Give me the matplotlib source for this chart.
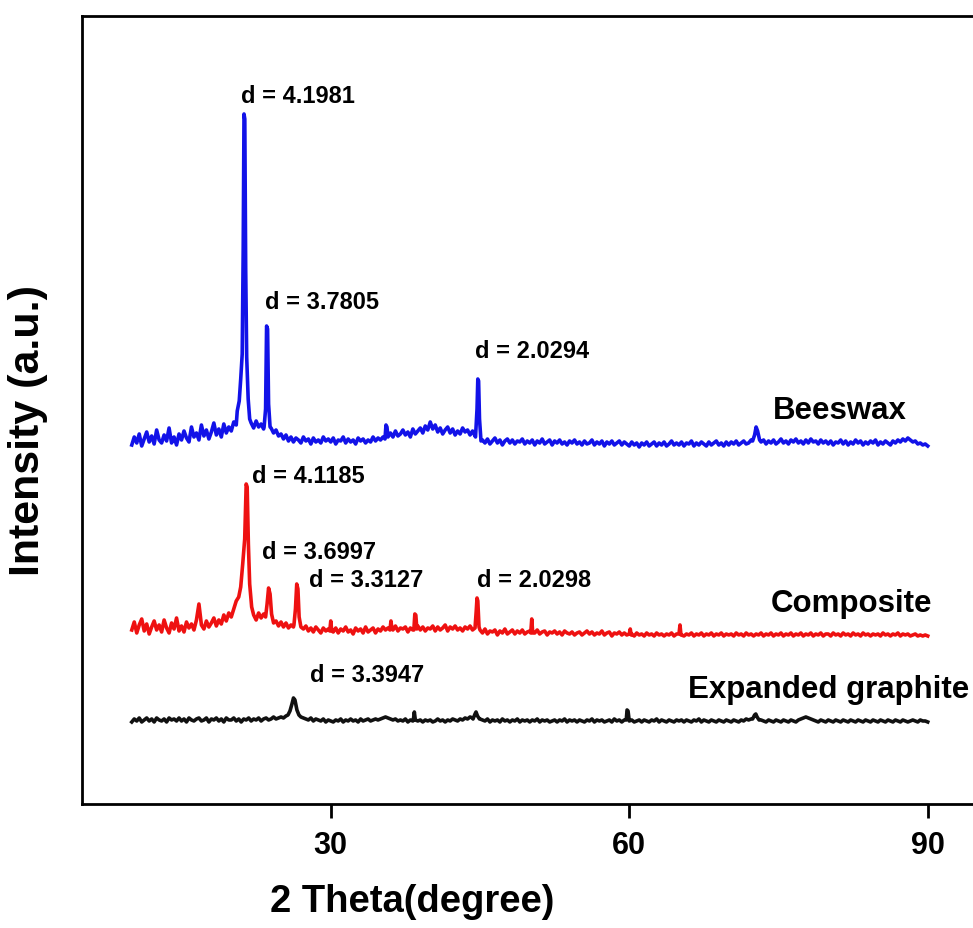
import matplotlib.pyplot as plt
import numpy as np

# 2-theta grid for the background (degrees)
two_theta = np.arange(10, 90.01, 0.25)

# background intensity above each curve's offset (a.u.), one value per grid point
beeswax_base = [
    4, 12, 6, 15, 3, 10, 17, 7, 13, 5, 19, 9, 6, 14, 8, 21, 6, 12, 4, 15,
    9, 18, 11, 7, 22, 12, 16, 9, 24, 13, 19, 10, 17, 26, 14, 20, 12, 25, 16, 22,
    18, 27, 24, 40, 90, 300, 90, 40, 26, 21, 28, 22, 25, 20, 60, 60, 21, 16, 19, 13,
    15, 10, 14, 8, 12, 7, 11, 9, 6, 12, 8, 10, 5, 11, 7, 9, 6, 12, 8, 10,
    7, 11, 5, 9, 8, 12, 6, 10, 7, 9, 5, 11, 8, 10, 6, 9, 7, 12, 8, 11,
    9, 12, 14, 10, 16, 12, 18, 13, 15, 19, 14, 17, 12, 20, 15, 18, 21, 16, 23, 19,
    27, 20, 24, 17, 21, 15, 19, 22, 16, 20, 14, 18, 15, 21, 17, 19, 14, 18, 13, 45,
    40, 9, 6, 10, 5, 8, 11, 6, 9, 4, 8, 10, 6, 9, 5, 8, 7, 10, 5, 8,
    6, 9, 4, 8, 6, 10, 5, 7, 9, 4, 8, 6, 9, 5, 7, 4, 8, 6, 9, 5,
    7, 4, 8, 5, 6, 9, 4, 7, 5, 8, 3, 7, 5, 8, 4, 6, 8, 4, 7, 5,
    3, 7, 4, 6, 2, 6, 4, 7, 3, 5, 7, 3, 6, 4, 7, 3, 5, 8, 4, 6,
    4, 7, 3, 6, 5, 8, 3, 6, 4, 7, 5, 3, 7, 4, 6, 8, 4, 6, 3, 7,
    4, 7, 5, 8, 4, 6, 8, 5, 6, 9, 15, 20, 18, 7, 9, 5, 8, 6, 9, 5,
    7, 10, 6, 8, 5, 9, 7, 10, 6, 8, 5, 9, 6, 10, 7, 8, 5, 9, 6, 8,
    5, 8, 4, 7, 6, 9, 5, 8, 4, 7, 5, 9, 6, 8, 4, 7, 5, 8, 6, 9,
    4, 7, 5, 8, 6, 4, 8, 6, 9, 7, 10, 8, 11, 9, 7, 8, 5, 6, 4, 5,
    3,
]
composite_base = [
    9, 17, 6, 14, 20, 8, 15, 5, 12, 18, 9, 14, 7, 19, 11, 6, 16, 10, 21, 8,
    13, 7, 17, 11, 15, 9, 19, 35, 14, 10, 18, 12, 16, 21, 13, 19, 15, 24, 18, 26,
    22, 30, 38, 45, 80, 150, 100, 55, 35, 24, 19, 26, 21, 25, 35, 50, 30, 16, 18, 13,
    17, 12, 16, 11, 14, 12, 30, 40, 12, 10, 13, 8, 11, 7, 12, 9, 6, 11, 8, 10,
    18, 7, 11, 6, 10, 8, 12, 7, 9, 5, 11, 8, 10, 6, 12, 7, 9, 11, 6, 10,
    8, 12, 9, 11, 14, 9, 13, 8, 11, 10, 12, 7, 11, 9, 20, 13, 9, 12, 8, 11,
    10, 13, 8, 12, 9, 11, 14, 8, 12, 10, 13, 9, 11, 8, 12, 10, 13, 9, 30, 35,
    9, 6, 10, 5, 8, 7, 9, 4, 8, 6, 10, 5, 7, 9, 5, 8, 6, 9, 5, 7,
    8, 15, 6, 9, 5, 7, 8, 4, 7, 6, 8, 5, 7, 4, 8, 6, 5, 7, 4, 6,
    7, 4, 6, 8, 5, 7, 4, 6, 5, 8, 4, 6, 7, 3, 6, 5, 7, 4, 6, 4,
    6, 5, 3, 6, 4, 5, 3, 6, 4, 5, 3, 6, 4, 5, 3, 5, 4, 6, 3, 5,
    6, 4, 3, 5, 4, 6, 3, 5, 4, 6, 3, 5, 4, 6, 3, 5, 4, 6, 3, 5,
    4, 5, 3, 6, 4, 5, 3, 6, 4, 5, 3, 5, 4, 6, 3, 5, 4, 6, 3, 5,
    4, 6, 3, 5, 4, 6, 3, 5, 4, 6, 3, 5, 4, 6, 3, 5, 4, 6, 3, 5,
    5, 3, 6, 4, 5, 3, 6, 4, 5, 3, 6, 4, 5, 3, 6, 4, 5, 3, 5, 4,
    5, 3, 6, 4, 5, 3, 5, 4, 6, 3, 5, 4, 5, 3, 4, 5, 3, 4, 3, 4,
    3,
]
graphite_base = [
    2, 5, 3, 6, 2, 4, 6, 3, 5, 2, 6, 4, 3, 5, 2, 6, 4, 5, 3, 6,
    3, 5, 2, 6, 4, 3, 5, 6, 3, 4, 6, 2, 5, 4, 6, 3, 5, 2, 6, 4,
    4, 6, 3, 5, 2, 5, 4, 6, 3, 5, 4, 6, 3, 5, 6, 4, 5, 7, 5, 6,
    7, 6, 8, 9, 15, 20, 25, 14, 7, 6, 5, 4, 6, 3, 5, 4, 3, 5, 2, 4,
    3, 2, 4, 3, 5, 2, 4, 3, 5, 3, 4, 2, 5, 3, 4, 5, 3, 4, 5, 4,
    5, 6, 7, 6, 5, 4, 5, 3, 4, 3, 5, 2, 4, 3, 10, 3, 4, 2, 4, 3,
    4, 2, 3, 5, 3, 4, 2, 4, 3, 5, 4, 3, 5, 4, 6, 5, 7, 6, 10, 9,
    5, 4, 3, 5, 2, 4, 3, 4, 2, 5, 3, 4, 2, 4, 3, 5, 2, 4, 3, 4,
    2, 4, 3, 5, 2, 4, 3, 4, 2, 3, 4, 2, 4, 3, 5, 2, 4, 3, 4, 2,
    4, 3, 2, 4, 3, 5, 2, 4, 3, 4, 2, 3, 4, 2, 5, 3, 4, 2, 4, 3,
    3, 4, 2, 3, 4, 2, 4, 3, 2, 4, 3, 5, 2, 4, 3, 2, 4, 3, 2, 4,
    3, 4, 2, 4, 3, 2, 4, 3, 5, 2, 4, 3, 2, 4, 3, 2, 4, 3, 2, 4,
    3, 2, 4, 3, 2, 4, 3, 5, 4, 5, 8, 10, 7, 4, 3, 2, 4, 3, 2, 4,
    3, 2, 4, 3, 2, 4, 3, 2, 4, 5, 6, 7, 6, 5, 4, 3, 2, 4, 3, 2,
    4, 3, 2, 4, 3, 2, 4, 3, 2, 4, 3, 2, 4, 3, 2, 4, 3, 2, 4, 3,
    2, 4, 3, 2, 4, 3, 2, 4, 3, 2, 4, 3, 2, 3, 4, 3, 2, 4, 3, 3,
    2,
]

# diffraction peaks: (2theta, intensity)
beeswax_peaks = [
    [(20.6, 38), (20.8, 48), (20.95, 70), (21.1, 95), (21.2, 200), (21.28, 335),
     (21.36, 330), (21.45, 180), (21.55, 92), (21.7, 50), (21.85, 30)],
    [(23.3, 22), (23.45, 40), (23.55, 123), (23.65, 120), (23.75, 45), (23.9, 22)],
    [(35.45, 10), (35.55, 24), (35.65, 22), (35.75, 12)],
    [(44.55, 12), (44.7, 40), (44.78, 70), (44.86, 68), (44.95, 30), (45.1, 8)],
    [(72.4, 8), (72.6, 14), (72.75, 22), (72.9, 18), (73.1, 9)],
]
composite_peaks = [
    [(20.75, 42), (20.95, 52), (21.15, 75), (21.35, 100), (21.5, 155), (21.6, 152),
     (21.72, 95), (21.85, 55), (22.05, 32)],
    [(23.45, 22), (23.6, 35), (23.75, 51), (23.9, 45), (24.05, 25), (24.25, 16)],
    [(26.3, 14), (26.45, 30), (26.58, 55), (26.7, 50), (26.82, 22), (27.0, 12)],
    [(29.9, 8), (30.0, 18), (30.1, 8)],
    [(35.95, 9), (36.05, 18), (36.15, 10)],
    [(38.35, 9), (38.45, 25), (38.55, 24), (38.65, 10)],
    [(44.5, 11), (44.62, 28), (44.7, 41), (44.78, 38), (44.9, 12)],
    [(50.1, 6), (50.2, 20), (50.3, 6)],
    [(60.0, 5), (60.1, 10), (60.2, 4)],
    [(65.0, 5), (65.1, 14), (65.2, 4)],
]
graphite_peaks = [
    [(25.7, 9), (25.9, 13), (26.1, 20), (26.25, 26), (26.4, 24), (26.6, 14),
     (26.8, 9), (27.0, 7)],
    [(38.3, 4), (38.4, 12), (38.5, 4)],
    [(44.3, 5), (44.5, 10), (44.6, 12), (44.75, 8), (44.95, 5)],
    [(59.7, 4), (59.78, 14), (59.88, 13), (59.98, 4)],
    [(72.4, 5), (72.6, 9), (72.72, 10), (72.85, 7), (73.05, 4)],
]

offsets = [355, 165, 80]
names = ['Beeswax', 'Composite', 'Expanded graphite']
colors = ['#1212e8', '#ee1111', '#111111']


def build(base, peaks):
    pts = []
    for x, y in zip(two_theta, base):
        if not any(g[0][0] <= x <= g[-1][0] for g in peaks):
            pts.append((x, y))
    for g in peaks:
        pts.extend(g)
    pts.sort()
    return np.array([p[0] for p in pts]), np.array([p[1] for p in pts])


fig = plt.figure(figsize=(9.73, 9.29), dpi=100)
ax = fig.add_axes([0.0843, 0.1335, 0.9203, 0.8482])

for base, peaks, off, col in zip([beeswax_base, composite_base, graphite_base],
                                 [beeswax_peaks, composite_peaks, graphite_peaks],
                                 offsets, colors):
    x, y = build(base, peaks)
    ax.plot(x, y + off, color=col, lw=2.6, solid_joinstyle='round')

ax.set_xlim(5, 95)
ax.set_ylim(0, 788)
ax.set_yticks([])
ax.set_xticks([30, 60, 90])
ax.set_xticklabels(['30', '60', '90'], family='Liberation Sans',
                   fontweight='bold', fontsize=22)
ax.tick_params(axis='x', direction='out', length=10, width=2, pad=9)
for s in ax.spines.values():
    s.set_linewidth(2)

ann = dict(family='Liberation Sans', fontweight='bold', ha='left', va='center')
ax.text(21.0, 708, 'd = 4.1981', fontsize=17, **ann)
ax.text(23.4, 502, 'd = 3.7805', fontsize=17, **ann)
ax.text(44.5, 453, 'd = 2.0294', fontsize=17, **ann)
ax.text(22.1, 328, 'd = 4.1185', fontsize=17, **ann)
ax.text(23.1, 252, 'd = 3.6997', fontsize=17, **ann)
ax.text(27.8, 224, 'd = 3.3127', fontsize=17, **ann)
ax.text(44.7, 224, 'd = 2.0298', fontsize=17, **ann)
ax.text(27.9, 129, 'd = 3.3947', fontsize=17, **ann)
ax.text(74.4, 394, names[0], fontsize=22.5, **ann)
ax.text(74.2, 201, names[1], fontsize=22.5, **ann)
ax.text(65.9, 115, names[2], fontsize=22.5, **ann)

fig.text(28 / 973, 1 - 430 / 929, 'Intensity (a.u.)', rotation=90, ha='center',
         va='center', family='Liberation Sans', fontweight='bold', fontsize=31)
fig.text(412 / 973, 1 - 902 / 929, '2 Theta(degree)', ha='center', va='center',
         family='Liberation Sans', fontweight='bold', fontsize=27.5)

fig.savefig('out.png', dpi=100)
